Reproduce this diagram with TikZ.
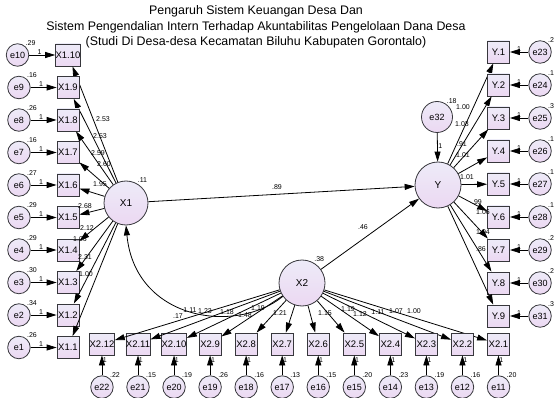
\documentclass[tikz,border=0pt]{standalone}
\usepackage{fontspec}
\setmainfont{Liberation Sans}
\usetikzlibrary{arrows.meta, positioning}
\definecolor{lavtop}{RGB}{237,235,248}
\definecolor{lavbot}{RGB}{236,216,242}
\definecolor{rim}{RGB}{55,55,60}

\begin{document}
\begin{tikzpicture}[x=1pt, y=-1pt,
    ind/.style={draw=rim, line width=0.8pt, top color=lavtop, bottom color=lavbot, minimum width=22pt, minimum height=22pt, inner sep=0pt, font=\fontsize{9.5}{10}\selectfont},
    err/.style={circle, draw=rim, line width=0.8pt, top color=lavtop, bottom color=lavbot, minimum size=22.5pt, inner sep=0pt, font=\fontsize{9}{10}\selectfont},
    lat/.style={err, minimum size=45pt, font=\fontsize{10}{11}\selectfont},
    coef/.style={font=\fontsize{7}{8}\selectfont, inner sep=0.5pt},
    var/.style={coef, label distance=0pt},
    arr/.style={-{Triangle[length=10pt, width=6pt]}, line width=0.8pt}
  ]
    \path[use as bounding box, fill=white] (0,0) rectangle (554,398);

    \node[align=center, font=\fontsize{12.4}{15.5}\selectfont] (title) at (256,27)
      {Pengaruh Sistem Keuangan Desa Dan\\Sistem Pengendalian Intern Terhadap Akuntabilitas Pengelolaan Dana Desa\\(Studi Di Desa-desa Kecamatan Biluhu Kabupaten Gorontalo)};

    % latent variables
    \node[lat, minimum size=44pt, label={[var]60:.11}] (X1) at (126,203) {X1};
    \node[lat, minimum size=46pt] (Y) at (438,185) {Y};
    \node[lat, minimum size=46pt, label={[var]60:.38}] (X2) at (302,283) {X2};
    \node[err, minimum size=31pt, label={[var]55:.18}] (e32) at (437,117) {e32};

    % X1 indicators
    \foreach \i/\v/\w/\lx/\ly in {10/.29/2.53/103/119, 9/.16/2.53/100/136, 8/.26/2.59/98/153,
        7/.16/2.60/104/164, 6/.27/1.95/100/184, 5/.29/2.68/85/206, 4/.29/2.12/87/228,
        3/.30/1.06/80/239, 2/.34/2.31/85/257, 1/.26/1.00/86/274} {
      \node[ind] (x1-\i) at (68,{55+(10-\i)*32.5}) {X1.\i};
      \node[err, left=26pt of x1-\i, label={[var]50:\v}] (e\i) {e\i};
      \draw[arr] (e\i) -- node[coef, above, pos=.4] {1} (x1-\i);
      \draw[arr] (X1) -- (x1-\i);
      \node[coef] at (\lx,\ly) {\w};
    }

    % Y indicators
    \foreach \i/\n/\v/\w/\lx/\ly in {1/23/.21/1.00/463/107, 2/24/.19/1.03/462/124, 3/25/.32/.91/462/144,
        4/26/.13/1.01/463/155, 5/27/.16/1.01/467/177, 6/28/.10/.99/477/202, 7/29/.28/1.06/483/212,
        8/30/.24/1.04/483/232, 9/31/.33/.86/481/249} {
      \node[ind] (y-\i) at (498.5,{52+(\i-1)*33}) {Y.\i};
      \node[err, right=18.5pt of y-\i, label={[var]50:\v}] (e\n) {e\n};
      \draw[arr] (e\n) -- node[coef, above] {1} (y-\i);
      \draw[arr] (Y) -- (y-\i);
      \node[coef] at (\lx,\ly) {\w};
    }

    % X2 indicators
    \foreach \i/\n/\v/\w/\lx/\ly in {1/11/.20/1.00/414/311, 2/12/.16/1.07/396/311, 3/13/.19/1.11/378/312,
        4/14/.23/1.12/360/314, 5/15/.20/1.19/348/309, 6/16/.15/1.15/325/313, 7/17/.13/1.21/280/313,
        8/18/.16/1.19/258/308, 9/19/.26/1.48/245/315, 10/20/.19/1.18/227/312, 11/21/.15/1.23/205/311,
        12/22/.22/1.11/190/310} {
      \node[ind] (x2-\i) at ({498.5-(\i-1)*36.05},344) {X2.\i};
      \node[err, below=20pt of x2-\i, label={[var]50:\v}] (e\n) {e\n};
      \draw[arr] (e\n) -- node[coef, right, pos=.75] {1} (x2-\i);
      \draw[arr] (X2) -- (x2-\i);
      \node[coef] at (\lx,\ly) {\w};
    }

    % structural paths
    \draw[arr] (X1) -- (Y);
    \draw[arr] (X2) -- (Y);
    \draw[arr] (e32) -- node[coef, right, pos=.45] {1} (Y);
    \draw[arr] (X2.215) .. controls (235,335) and (135,320) .. (X1.south);
    \node[coef] at (277,187) {.89};
    \node[coef] at (363,227) {.46};
    \node[coef] at (178,316) {.17};
\end{tikzpicture}
\end{document}
